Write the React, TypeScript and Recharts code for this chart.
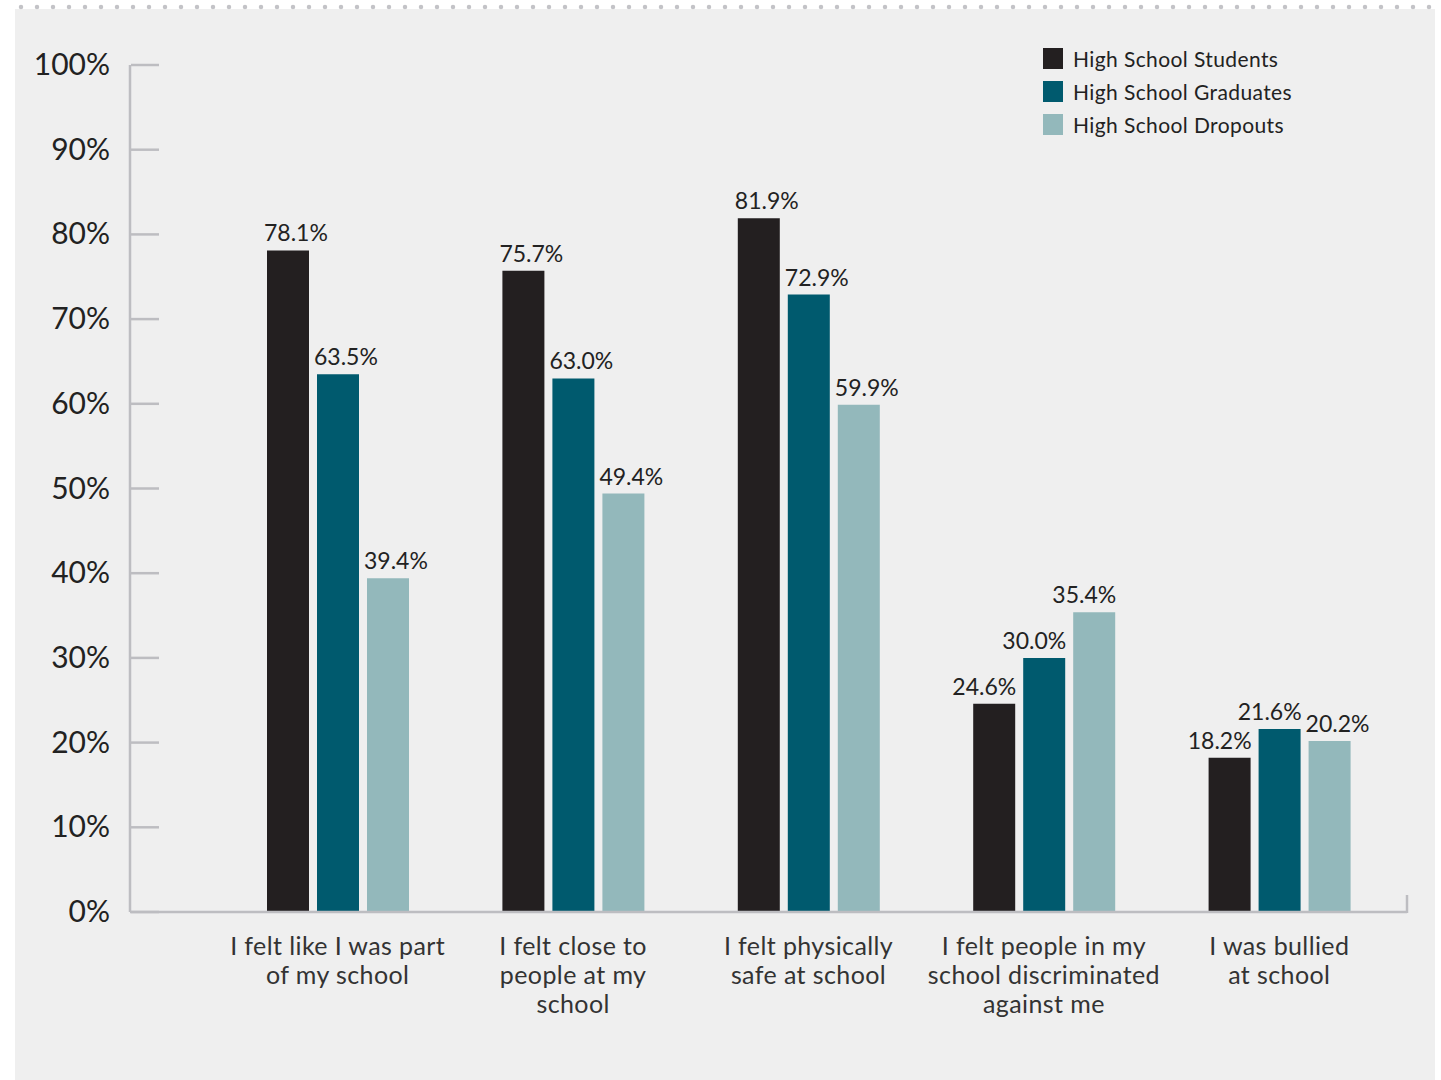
import React from "react";
import { BarChart, Bar, XAxis, YAxis, Legend, LabelList } from "recharts";

const categories = [
  "I felt like I was part\nof my school",
  "I felt close to\npeople at my\nschool",
  "I felt physically\nsafe at school",
  "I felt people in my\nschool discriminated\nagainst me",
  "I was bullied\nat school",
];
const students = [78.1, 75.7, 81.9, 24.6, 18.2];
const graduates = [63.5, 63.0, 72.9, 30.0, 21.6];
const dropouts = [39.4, 49.4, 59.9, 35.4, 20.2];
const yTicks = [0, 10, 20, 30, 40, 50, 60, 70, 80, 90, 100];

const series = [
  { key: "students", name: "High School Students", color: "#231f20", values: students },
  { key: "graduates", name: "High School Graduates", color: "#005a6e", values: graduates },
  { key: "dropouts", name: "High School Dropouts", color: "#93b8bb", values: dropouts },
];

const data = categories.map((c, i) => ({
  category: c,
  students: students[i],
  graduates: graduates[i],
  dropouts: dropouts[i],
}));

const FONT = "Lato, 'Open Sans', sans-serif";
const AXIS = "#bdbdc1";

// groups 4 and 5 have their labels pushed left of the bar's right edge
const rightAligned = (cat: number, s: number) => cat === 3 || (cat === 4 && s < 2);

function makeLabel(s: number) {
  return (props: any) => {
    const { x, y, width, value, index } = props;
    const end = rightAligned(index, s);
    return (
      <text
        x={end ? x + width + 1 : x - 3}
        y={y - 9}
        textAnchor={end ? "end" : "start"}
        fontSize={23}
        fontFamily={FONT}
        fill="#222"
      >
        {Number(value).toFixed(1)}%
      </text>
    );
  };
}

function YTick({ x, y, payload }: any) {
  return (
    <g>
      <line x1={x + 21} x2={x + 49} y1={y} y2={y} stroke={AXIS} strokeWidth={2.5} />
      <text x={x} y={y} dy={10} textAnchor="end" fontSize={30} fontFamily={FONT} fill="#222">
        {payload.value}%
      </text>
    </g>
  );
}

function XTick({ x, y, payload }: any) {
  const lines = String(payload.value).split("\n");
  return (
    <text
      x={x}
      y={y}
      textAnchor="middle"
      fontSize={25}
      letterSpacing={0.4}
      fontFamily={FONT}
      fill="#333"
    >
      {lines.map((l, i) => (
        <tspan key={i} x={x} dy={i === 0 ? 43 : 29}>
          {l}
        </tspan>
      ))}
    </text>
  );
}

function LegendBox() {
  return (
    <div style={{ fontFamily: FONT }}>
      {series.map((s) => (
        <div key={s.key} style={{ display: "flex", alignItems: "center", height: 33 }}>
          <div style={{ width: 20, height: 21, background: s.color, marginRight: 10 }} />
          <span style={{ fontSize: 21, color: "#222", letterSpacing: 0.4 }}>{s.name}</span>
        </div>
      ))}
    </div>
  );
}

export default function App() {
  return (
    <div
      style={{
        position: "absolute",
        left: 0,
        top: 0,
        width: 1441,
        height: 1080,
        background: "#fff",
        overflow: "hidden",
      }}
    >
      <div
        style={{ position: "absolute", left: 15, top: 9, width: 1420, height: 1071, background: "#efefef" }}
      />
      <svg style={{ position: "absolute", left: 0, top: 0 }} width={1441} height={16}>
        <line
          x1={21}
          x2={1441}
          y1={7}
          y2={7}
          stroke="#c3c3c7"
          strokeWidth={4.5}
          strokeLinecap="round"
          strokeDasharray="0 16"
        />
      </svg>
      <div style={{ position: "absolute", left: 0, top: 0 }}>
        <BarChart
          width={1441}
          height={1080}
          data={data}
          margin={{ top: 65, right: 34, left: 30, bottom: 48 }}
          barSize={42}
          barGap={8}
        >
          <XAxis
            dataKey="category"
            interval={0}
            height={120}
            padding={{ left: 90, right: 10 }}
            axisLine={{ stroke: AXIS, strokeWidth: 2.5 }}
            tickLine={false}
            tickSize={0}
            tickMargin={0}
            tick={<XTick />}
          />
          <YAxis
            domain={[0, 100]}
            ticks={yTicks}
            width={100}
            axisLine={{ stroke: AXIS, strokeWidth: 2.5 }}
            tickLine={false}
            tickSize={0}
            tickMargin={20}
            tick={<YTick />}
          />
          <Legend
            layout="vertical"
            align="center"
            verticalAlign="middle"
            wrapperStyle={{ top: 42, left: 1043, width: "auto" }}
            content={() => <LegendBox />}
          />
          {series.map((s, si) => (
            <Bar key={s.key} dataKey={s.key} name={s.name} fill={s.color} isAnimationActive={false}>
              <LabelList dataKey={s.key} content={makeLabel(si)} />
            </Bar>
          ))}
        </BarChart>
      </div>
      <svg style={{ position: "absolute", left: 0, top: 0, pointerEvents: "none" }} width={1441} height={1080}>
        <line x1={1407} x2={1407} y1={895} y2={913} stroke={AXIS} strokeWidth={2.5} />
      </svg>
    </div>
  );
}
